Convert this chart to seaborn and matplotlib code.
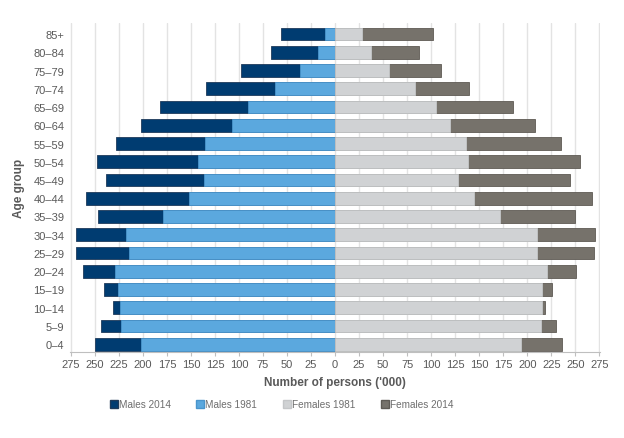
import matplotlib
matplotlib.use("Agg")
import matplotlib.pyplot as plt
from matplotlib.patches import Patch
import seaborn as sns
import numpy as np
import pandas as pd

age_groups = ["85+", "80–84", "75–79", "70–74", "65–69", "60–64", "55–59", "50–54",
              "45–49", "40–44", "35–39", "30–34", "25–29", "20–24", "15–19", "10–14",
              "5–9", "0–4"]
males_2014 = [56, 67, 98, 134, 182, 202, 228, 248, 238, 259, 247, 270, 270, 262, 240, 231, 244, 250]
males_1981 = [10, 18, 37, 63, 91, 107, 135, 143, 136, 152, 179, 218, 215, 229, 226, 224, 223, 202]
females_1981 = [28, 37, 56, 83, 105, 120, 136, 138, 128, 145, 172, 210, 210, 221, 215, 215, 214, 193]
females_2014 = [102, 87, 110, 139, 185, 208, 235, 255, 244, 267, 250, 271, 269, 251, 226, 218, 230, 236]

c_m14 = "#003C71"
c_m81 = "#5BA8DE"
c_f81 = "#D0D2D4"
c_f14 = "#76726B"

sns.set_theme(style="white")
plt.rcParams["font.family"] = ["Liberation Sans", "DejaVu Sans"]
text_col = "#595959"

fig, ax = plt.subplots(figsize=(6.24, 4.39), dpi=100)
fig.subplots_adjust(left=0.112, right=0.962, top=0.945, bottom=0.195)

df = pd.DataFrame({"age": age_groups,
                   "m14": -np.array(males_2014), "m81": -np.array(males_1981),
                   "f81": np.array(females_1981), "f14": np.array(females_2014)})

w = 0.7
sns.barplot(data=df, x="m14", y="age", order=age_groups, color=c_m14, ax=ax, width=w,
            orient="h", saturation=1, edgecolor="#1F3A5A", linewidth=0.6)
sns.barplot(data=df, x="m81", y="age", order=age_groups, color=c_m81, ax=ax, width=w,
            orient="h", saturation=1, edgecolor="#4A95CC", linewidth=0.6)
sns.barplot(data=df, x="f14", y="age", order=age_groups, color=c_f14, ax=ax, width=w,
            orient="h", saturation=1, edgecolor="#5E5A54", linewidth=0.6)
sns.barplot(data=df, x="f81", y="age", order=age_groups, color=c_f81, ax=ax, width=w,
            orient="h", saturation=1, edgecolor="#C4C6C8", linewidth=0.6)

ticks = np.arange(-275, 276, 25)
ax.set_xticks(ticks)
ax.set_xticklabels([str(abs(t)) for t in ticks], fontsize=8, color=text_col)
ax.set_xlim(-276, 276)
ax.set_ylim(17.45, -0.6)
ax.tick_params(axis="y", labelsize=8, colors=text_col, length=0, pad=4)
ax.tick_params(axis="x", length=3, color="#BFBFBF", width=0.8, pad=2, bottom=True)
ax.set_axisbelow(True)
ax.grid(axis="x", color="#E3E3E3", linewidth=1)
ax.grid(axis="y", visible=False)
for s in ["top", "right", "left"]:
    ax.spines[s].set_visible(False)
ax.spines["bottom"].set_color("#BFBFBF")
ax.spines["bottom"].set_linewidth(0.8)

ax.set_xlabel("Number of persons ('000)", fontsize=8.5, fontweight="bold", color=text_col, labelpad=5)
ax.set_ylabel("Age group", fontsize=8.5, fontweight="bold", color=text_col, labelpad=6)

handles = [Patch(facecolor=c_m14, edgecolor="#1F3A5A", label="Males 2014"),
           Patch(facecolor=c_m81, edgecolor="#4A95CC", label="Males 1981"),
           Patch(facecolor=c_f81, edgecolor="#C4C6C8", label="Females 1981"),
           Patch(facecolor=c_f14, edgecolor="#5E5A54", label="Females 2014")]
leg = fig.legend(handles=handles, loc="center", bbox_to_anchor=(0.451, 0.077), ncol=4,
                 frameon=False, fontsize=7.2, handlelength=0.8, handleheight=0.8,
                 handletextpad=0.1, columnspacing=2.55)
for t in leg.get_texts():
    t.set_color("#6E6E6E")

fig.savefig("out.png", dpi=100)
